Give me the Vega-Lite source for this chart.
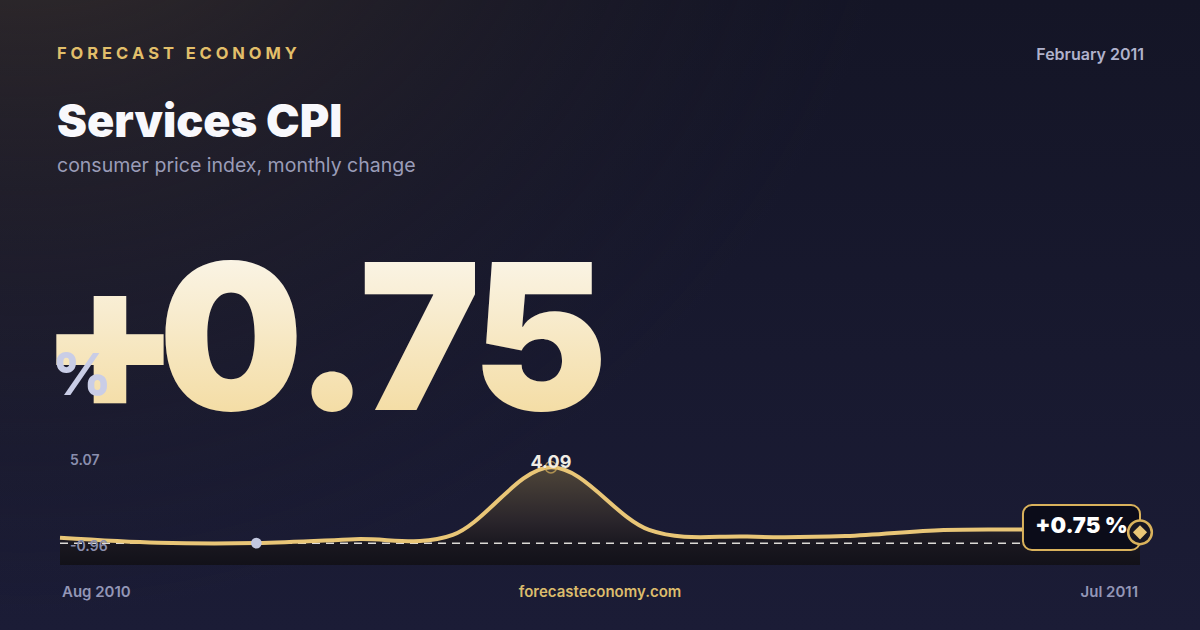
{
  "$schema": "https://vega.github.io/schema/vega-lite/v6.json",
  "width": 1200,
  "height": 630,
  "autosize": {"type": "fit", "contains": "padding"},
  "padding": 0,
  "background": "#17182e",
  "config": {"view": {"stroke": null}, "font": "Inter"},
  "data": {
    "values": [
      {"i": 0, "month": "Aug 2010", "v": 0.30},
      {"i": 1, "month": "Sep 2010", "v": 0.03},
      {"i": 2, "month": "Oct 2010", "v": 0.01},
      {"i": 3, "month": "Nov 2010", "v": 0.22},
      {"i": 4, "month": "Dec 2010", "v": 0.45},
      {"i": 5, "month": "Jan 2011", "v": 4.09},
      {"i": 6, "month": "Feb 2011", "v": 0.72},
      {"i": 7, "month": "Mar 2011", "v": 0.36},
      {"i": 8, "month": "Apr 2011", "v": 0.39},
      {"i": 9, "month": "May 2011", "v": 0.72},
      {"i": 10, "month": "Jun 2011", "v": 0.74},
      {"i": 11, "month": "Jul 2011", "v": 0.75}
    ]
  },
  "layer": [
    {
      "data": {"values": [{}]},
      "mark": {
        "type": "rect",
        "fill": {
          "gradient": "linear", "x1": 0, "y1": 0, "x2": 0, "y2": 1,
          "stops": [
            {"offset": 0, "color": "#141526"},
            {"offset": 1, "color": "#1b1c36"}
          ]
        }
      },
      "encoding": {
        "x": {"datum": -0.6111, "type": "quantitative", "scale": {"domain": [-0.6111, 11.6111], "nice": false, "zero": false}, "axis": null},
        "x2": {"datum": 11.6111},
        "y": {"datum": 29.24, "type": "quantitative", "scale": {"domain": [-4.666, 29.24], "nice": false, "zero": false}, "axis": null},
        "y2": {"datum": -4.666}
      }
    },
    {
      "data": {"values": [{}]},
      "mark": {
        "type": "rect",
        "fill": {
          "gradient": "radial", "x1": 0.02, "y1": 0, "r1": 0, "x2": 0.02, "y2": 0, "r2": 0.75,
          "stops": [
            {"offset": 0, "color": "rgba(76,64,50,0.9)"},
            {"offset": 0.45, "color": "rgba(52,44,42,0.45)"},
            {"offset": 1, "color": "rgba(30,28,40,0)"}
          ]
        }
      },
      "encoding": {
        "x": {"datum": -0.6111},
        "x2": {"datum": 11.6111},
        "y": {"datum": 29.24},
        "y2": {"datum": -4.666}
      }
    },
    {
      "mark": {
        "type": "area",
        "interpolate": "cardinal",
        "fill": {
          "gradient": "linear", "x1": 0, "y1": 0, "x2": 0, "y2": 1,
          "stops": [
            {"offset": 0, "color": "#4e4539"},
            {"offset": 0.55, "color": "#2a252b"},
            {"offset": 0.8, "color": "#19171f"},
            {"offset": 1, "color": "#121119"}
          ]
        }
      },
      "encoding": {
        "x": {"field": "i", "type": "quantitative"},
        "y": {"field": "v", "type": "quantitative"},
        "y2": {"datum": -1.168}
      }
    },
    {
      "data": {"values": [{}]},
      "mark": {"type": "rule", "color": "#f2f0ea", "strokeWidth": 1.5, "strokeDash": [8, 6], "opacity": 0.9},
      "encoding": {
        "x": {"datum": 0},
        "x2": {"datum": 11},
        "y": {"datum": 0}
      }
    },
    {
      "mark": {"type": "line", "interpolate": "cardinal", "color": "#e9c677", "strokeWidth": 4},
      "encoding": {
        "x": {"field": "i", "type": "quantitative"},
        "y": {"field": "v", "type": "quantitative"}
      }
    },
    {
      "transform": [{"filter": "datum.i == 2"}],
      "mark": {"type": "circle", "size": 115, "color": "#c3c8e0", "opacity": 1},
      "encoding": {
        "x": {"field": "i", "type": "quantitative"},
        "y": {"field": "v", "type": "quantitative"}
      }
    },
    {
      "transform": [{"filter": "datum.i == 5"}],
      "mark": {"type": "point", "shape": "circle", "size": 130, "filled": false, "color": "#d9b25c", "strokeWidth": 1.5},
      "encoding": {
        "x": {"field": "i", "type": "quantitative"},
        "y": {"field": "v", "type": "quantitative"}
      }
    },
    {
      "transform": [{"filter": "datum.i == 5"}],
      "mark": {"type": "text", "fontSize": 18, "fontWeight": 700, "color": "#f0ece4", "align": "center", "baseline": "alphabetic", "dy": 1},
      "encoding": {
        "x": {"field": "i", "type": "quantitative"},
        "y": {"field": "v", "type": "quantitative"},
        "text": {"field": "v", "type": "quantitative", "format": ".2f"}
      }
    },
    {
      "data": {"values": [{}]},
      "mark": {"type": "text", "fontSize": 14, "fontWeight": 600, "color": "#8b8fae", "align": "left", "baseline": "middle", "dy": 12},
      "encoding": {
        "x": {"datum": 0.1019},
        "y": {"datum": 5.07},
        "text": {"value": "5.07"}
      }
    },
    {
      "data": {"values": [{}]},
      "mark": {"type": "text", "fontSize": 14, "fontWeight": 600, "color": "#8b8fae", "align": "left", "baseline": "middle", "dy": -14},
      "encoding": {
        "x": {"datum": 0.1019},
        "y": {"datum": -0.96},
        "text": {"value": "-0.96"}
      }
    },
    {
      "data": {"values": [{}]},
      "mark": {"type": "rect", "fill": "#0b0c19", "stroke": "#d9b25c", "strokeWidth": 2, "cornerRadius": 9},
      "encoding": {
        "x": {"datum": 9.808},
        "x2": {"datum": 11},
        "y": {"datum": 2.061},
        "y2": {"datum": -0.361}
      }
    },
    {
      "data": {"values": [{}]},
      "mark": {"type": "text", "fontSize": 22, "fontWeight": 900, "color": "#ffffff", "align": "center", "baseline": "alphabetic"},
      "encoding": {
        "x": {"datum": 10.404},
        "y": {"datum": 0.554},
        "text": {"value": "+0.75 %"}
      }
    },
    {
      "transform": [{"filter": "datum.i == 11"}],
      "mark": {"type": "point", "shape": "circle", "size": 560, "filled": true, "fill": "#171622", "stroke": "#d9b25c", "strokeWidth": 2.5, "opacity": 1, "yOffset": 3},
      "encoding": {
        "x": {"field": "i", "type": "quantitative"},
        "y": {"field": "v", "type": "quantitative"}
      }
    },
    {
      "transform": [{"filter": "datum.i == 11"}],
      "mark": {"type": "point", "shape": "diamond", "size": 200, "filled": true, "color": "#e9c677", "opacity": 1, "yOffset": 3},
      "encoding": {
        "x": {"field": "i", "type": "quantitative"},
        "y": {"field": "v", "type": "quantitative"}
      }
    },
    {
      "data": {"values": [{}]},
      "mark": {"type": "text", "fontSize": 16.5, "fontWeight": 700, "color": "#e2bf6a", "align": "left", "baseline": "alphabetic"},
      "encoding": {
        "x": {"datum": -0.0306},
        "y": {"datum": 26.06},
        "text": {"value": "F O R E C A S T \u00a0\u00a0E C O N O M Y"}
      }
    },
    {
      "data": {"values": [{}]},
      "mark": {"type": "text", "fontSize": 16, "fontWeight": 600, "color": "#b0b2cc", "align": "right", "baseline": "alphabetic"},
      "encoding": {
        "x": {"datum": 11.041},
        "y": {"datum": 26.01},
        "text": {"value": "February 2011"}
      }
    },
    {
      "data": {"values": [{}]},
      "mark": {"type": "text", "fontSize": 45, "fontWeight": 900, "color": "#f8f8fc", "align": "left", "baseline": "alphabetic"},
      "encoding": {
        "x": {"datum": -0.0306},
        "y": {"datum": 21.88},
        "text": {"value": "Services CPI"}
      }
    },
    {
      "data": {"values": [{}]},
      "mark": {"type": "text", "fontSize": 19.5, "fontWeight": 400, "color": "#9a9cb8", "align": "left", "baseline": "alphabetic"},
      "encoding": {
        "x": {"datum": -0.0306},
        "y": {"datum": 19.98},
        "text": {"value": "consumer price index, monthly change"}
      }
    },
    {
      "data": {"values": [{"g": "+", "c": 0.5093}, {"g": "0", "c": 1.7417}, {"g": ".", "c": 2.7704}, {"g": "7", "c": 3.6667}, {"g": "5", "c": 4.8889}]},
      "mark": {
        "type": "text", "fontSize": 204, "fontWeight": 900, "align": "center", "baseline": "alphabetic",
        "fill": {
          "gradient": "linear", "x1": 0, "y1": 0, "x2": 0, "y2": 1,
          "stops": [
            {"offset": 0, "color": "#fcfbf8"},
            {"offset": 1, "color": "#f2d692"}
          ]
        }
      },
      "encoding": {
        "x": {"field": "c", "type": "quantitative"},
        "y": {"datum": 7.174},
        "text": {"field": "g"}
      }
    },
    {
      "data": {"values": [{}]},
      "mark": {"type": "text", "fontSize": 58, "fontWeight": 800, "color": "#c9cde6", "align": "left", "baseline": "alphabetic"},
      "encoding": {
        "x": {"datum": -0.0815},
        "y": {"datum": 7.98},
        "text": {"value": "%"}
      }
    },
    {
      "data": {"values": [{}]},
      "mark": {"type": "text", "fontSize": 15, "fontWeight": 600, "color": "#9396b6", "align": "left", "baseline": "middle"},
      "encoding": {
        "x": {"datum": 0.02},
        "y": {"datum": -2.621},
        "text": {"value": "Aug 2010"}
      }
    },
    {
      "data": {"values": [{}]},
      "mark": {"type": "text", "fontSize": 15, "fontWeight": 600, "color": "#dcbc6c", "align": "center", "baseline": "middle"},
      "encoding": {
        "x": {"datum": 5.5},
        "y": {"datum": -2.621},
        "text": {"value": "forecasteconomy.com"}
      }
    },
    {
      "data": {"values": [{}]},
      "mark": {"type": "text", "fontSize": 15, "fontWeight": 600, "color": "#9396b6", "align": "right", "baseline": "middle"},
      "encoding": {
        "x": {"datum": 10.98},
        "y": {"datum": -2.621},
        "text": {"value": "Jul 2011"}
      }
    }
  ]
}
